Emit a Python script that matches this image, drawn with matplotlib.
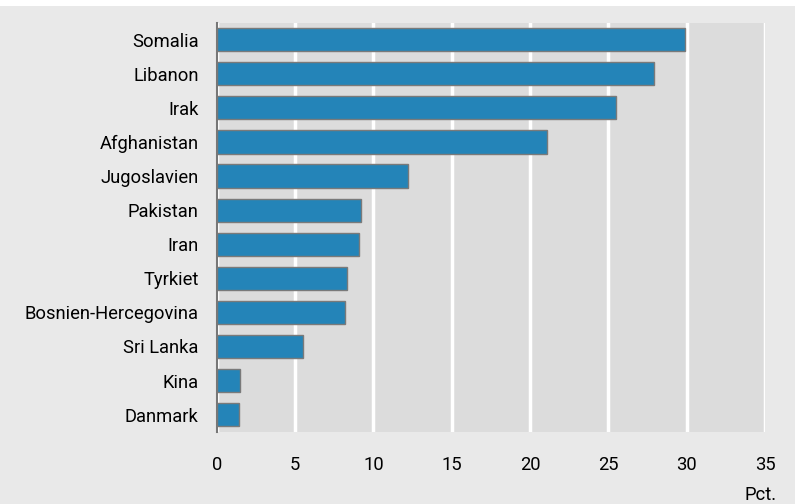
import matplotlib.pyplot as plt
from matplotlib.patches import Rectangle
from matplotlib.transforms import blended_transform_factory

# Data
lande = ['Somalia', 'Libanon', 'Irak', 'Afghanistan', 'Jugoslavien', 'Pakistan',
         'Iran', 'Tyrkiet', 'Bosnien-Hercegovina', 'Sri Lanka', 'Kina', 'Danmark']
pct = [29.9, 27.9, 25.5, 21.1, 12.2, 9.2, 9.1, 8.3, 8.2, 5.5, 1.5, 1.4]
xticks = [0, 5, 10, 15, 20, 25, 30, 35]

plt.rcParams['font.family'] = ['Roboto', 'DejaVu Sans']
fs = 13.2

fig = plt.figure(figsize=(7.97, 5.04), dpi=100)
fig.patch.set_facecolor('white')
fig.patches.append(Rectangle((0, 0), 795 / 797, 1 - 6 / 504, transform=fig.transFigure,
                             facecolor='#e9e9e9', edgecolor='none', zorder=-10))

ax = fig.add_axes([0.272, 0.1435, 0.688, 0.8115])
ax.set_facecolor('#dcdcdc')

y = list(range(len(lande)))
ax.barh(y, pct, height=0.68, color='#2484b8', edgecolor='#7a7a7a', linewidth=1, zorder=3)
ax.set_yticks(y)
ax.set_yticklabels(lande, fontsize=fs)
ax.set_ylim(len(lande) - 0.5, -0.5)
ax.set_xlim(0, 35)
ax.set_xticks(xticks)
ax.set_xticklabels([])

# x tick labels placed lower, as in the original
tr = blended_transform_factory(ax.transData, fig.transFigure)
for v in xticks:
    ax.text(v, 1 - 465 / 504, str(v), transform=tr, ha='center', va='center',
            fontsize=fs, clip_on=False)

ax.grid(axis='x', color='white', linewidth=2.5, zorder=1)
ax.set_axisbelow(True)
for s in ['top', 'right', 'bottom']:
    ax.spines[s].set_visible(False)
ax.spines['left'].set_color('#777777')
ax.spines['left'].set_linewidth(1.5)
ax.spines['left'].set_zorder(4)

ax.tick_params(axis='x', length=0)
ax.tick_params(axis='y', length=0, pad=13)

fig.text(777 / 797, 1 - 495 / 504, 'Pct.', ha='right', va='center', fontsize=fs)

fig.savefig('out.png', dpi=100, facecolor=fig.get_facecolor())
